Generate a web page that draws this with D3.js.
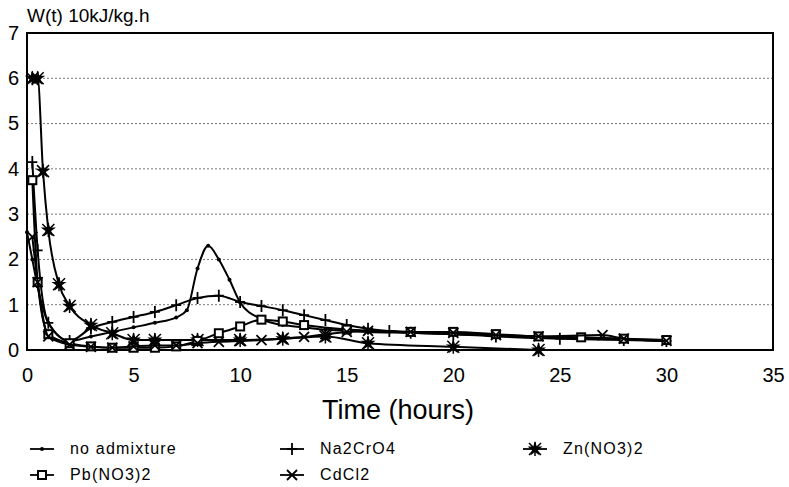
<!DOCTYPE html>
<html>
<head>
<meta charset="utf-8">
<script src="https://cdnjs.cloudflare.com/ajax/libs/d3/7.8.5/d3.min.js"></script>
<style>
  body { margin: 0; background: #fff; }
  svg text { font-family: "Liberation Sans", Arial, sans-serif; fill: #000; }
</style>
</head>
<body>
<div id="chart"></div>
<script>
const width = 789, height = 487,
    margin = ({ top: 33, right: 16, bottom: 137, left: 27 });

// hours
const tNoAdmix = [0, 0.25, 0.5, 1, 2, 3, 4, 5, 6, 7, 7.5, 8, 8.5, 9, 9.5, 10, 11, 12, 13, 14, 15, 16, 18, 20, 22, 24, 26, 28, 30];
const noAdmix  = [2.6, 2.0, 1.4, 0.6, 0.2, 0.3, 0.4, 0.5, 0.6, 0.72, 0.88, 1.8, 2.3, 2.0, 1.55, 1.05, 0.68, 0.55, 0.5, 0.45, 0.42, 0.4, 0.38, 0.35, 0.32, 0.3, 0.27, 0.24, 0.2];

const tNa = [0.25, 0.5, 1, 2, 3, 4, 5, 6, 7, 8, 9, 10, 11, 12, 13, 14, 15, 16, 17, 18, 20, 22, 25, 28, 30];
const na2cro4 = [4.15, 2.2, 0.6, 0.2, 0.48, 0.62, 0.73, 0.84, 0.99, 1.15, 1.2, 1.06, 0.97, 0.88, 0.77, 0.66, 0.55, 0.47, 0.42, 0.38, 0.35, 0.3, 0.25, 0.22, 0.2];

const tZn = [0.25, 0.5, 0.75, 1, 1.5, 2, 3, 4, 5, 6, 8, 10, 12, 14, 16, 20, 24];
const zn = [6.0, 6.0, 3.95, 2.65, 1.45, 0.97, 0.55, 0.37, 0.22, 0.22, 0.22, 0.22, 0.25, 0.3, 0.15, 0.07, 0.0];

const tPb = [0.25, 0.5, 1, 2, 3, 4, 5, 6, 7, 8, 9, 10, 11, 12, 13, 15, 18, 20, 22, 24, 26, 28, 30];
const pb = [3.75, 1.5, 0.35, 0.15, 0.08, 0.05, 0.05, 0.05, 0.08, 0.2, 0.37, 0.52, 0.67, 0.63, 0.55, 0.45, 0.4, 0.4, 0.35, 0.3, 0.28, 0.25, 0.22];

const tCd = [0.25, 0.5, 1, 2, 3, 4, 5, 6, 7, 8, 9, 10, 11, 12, 13, 14, 15, 16, 18, 20, 22, 24, 27, 28, 30];
const cdcl2 = [2.5, 1.5, 0.3, 0.12, 0.07, 0.05, 0.08, 0.1, 0.1, 0.15, 0.18, 0.2, 0.22, 0.25, 0.29, 0.35, 0.4, 0.42, 0.4, 0.38, 0.33, 0.3, 0.33, 0.25, 0.2];

const xTicks = [0, 5, 10, 15, 20, 25, 30, 35];
const yTicks = [0, 1, 2, 3, 4, 5, 6, 7];

const series = [
    { name: "no admixture", t: tNoAdmix, v: noAdmix, marker: "dot" },
    { name: "Na2CrO4", t: tNa, v: na2cro4, marker: "plus" },
    { name: "Zn(NO3)2", t: tZn, v: zn, marker: "star" },
    { name: "Pb(NO3)2", t: tPb, v: pb, marker: "square" },
    { name: "CdCl2", t: tCd, v: cdcl2, marker: "cross" }
];

const svg = d3.select("#chart").append("svg")
    .attr("width", width)
    .attr("height", height);

let x = d3.scaleLinear()
    .domain([0, 35])
    .range([margin.left, width - margin.right]);

let y = d3.scaleLinear()
    .domain([0, 7])
    .range([height - margin.bottom, margin.top]);

// dotted grid lines
svg.append("g")
    .selectAll("line")
    .data(yTicks.slice(1, -1))
    .join("line")
    .attr("x1", x(0)).attr("x2", x(35))
    .attr("y1", d => y(d)).attr("y2", d => y(d))
    .attr("stroke", "#555")
    .attr("stroke-width", 0.8)
    .attr("stroke-dasharray", "2,2");

// axes
svg.append("g")
    .attr("transform", `translate(${margin.left},0)`)
    .call(d3.axisLeft(y).tickValues(yTicks).tickFormat(d3.format("d")).tickSize(0).tickPadding(8))
    .call(g => g.select(".domain").remove())
    .call(g => g.selectAll("text").attr("font-size", 20));

svg.append("g")
    .attr("transform", `translate(0,${y(0)})`)
    .call(d3.axisBottom(x).tickValues(xTicks).tickSize(0).tickPadding(18))
    .call(g => g.select(".domain").remove())
    .call(g => g.selectAll("text").attr("font-size", 20));

// frame
svg.append("rect")
    .attr("x", x(0)).attr("y", y(7))
    .attr("width", x(35) - x(0)).attr("height", y(0) - y(7))
    .attr("fill", "none")
    .attr("stroke", "#000")
    .attr("stroke-width", 2);

svg.append("text")
    .attr("x", 27).attr("y", 22)
    .attr("font-size", 19)
    .text("W(t) 10kJ/kg.h");

svg.append("text")
    .attr("x", 398).attr("y", 419)
    .attr("text-anchor", "middle")
    .attr("font-size", 27)
    .text("Time (hours)");

function drawMarker(g, kind, px, py) {
    if (kind === "dot") {
        g.append("circle").attr("cx", px).attr("cy", py).attr("r", 2).attr("fill", "#000");
    } else if (kind === "plus") {
        g.append("path").attr("d", `M${px - 5},${py}H${px + 5}M${px},${py - 6}V${py + 6}`)
            .attr("stroke", "#000").attr("stroke-width", 1.8);
    } else if (kind === "star") {
        g.append("path").attr("d", d3.symbol(d3.symbolStar, 70)())
            .attr("transform", `translate(${px},${py})`).attr("fill", "#000");
        g.append("path").attr("d", `M${px - 6},${py - 6}L${px + 6},${py + 6}M${px - 6},${py + 6}L${px + 6},${py - 6}M${px},${py - 7}V${py + 7}`)
            .attr("stroke", "#000").attr("stroke-width", 1.5);
    } else if (kind === "square") {
        g.append("rect").attr("x", px - 4).attr("y", py - 4).attr("width", 8).attr("height", 8)
            .attr("fill", "#fff").attr("stroke", "#000").attr("stroke-width", 2);
    } else if (kind === "cross") {
        g.append("path").attr("d", `M${px - 5},${py - 5}L${px + 5},${py + 5}M${px - 5},${py + 5}L${px + 5},${py - 5}`)
            .attr("stroke", "#000").attr("stroke-width", 1.8);
    }
}

let line = d3.line()
    .x(d => x(d[0]))
    .y(d => y(d[1]))
    .curve(d3.curveMonotoneX);

for (let s of series) {
    let pts = s.t.map((t, i) => [t, s.v[i]]);
    let g = svg.append("g");
    g.append("path")
        .datum(pts)
        .attr("d", line)
        .attr("fill", "none")
        .attr("stroke", "#000")
        .attr("stroke-width", 2);
    for (let p of pts) drawMarker(g, s.marker, x(p[0]), y(p[1]));
}

// legend
const legendPos = [[30, 449], [280, 449], [523, 449], [30, 475], [280, 475]];
series.forEach((s, i) => {
    let [lx, ly] = legendPos[i];
    let g = svg.append("g");
    g.append("line").attr("x1", lx).attr("x2", lx + 24).attr("y1", ly).attr("y2", ly)
        .attr("stroke", "#000").attr("stroke-width", 1.8);
    drawMarker(g, s.marker, lx + 12, ly);
    g.append("text").attr("x", lx + 40).attr("y", ly + 5)
        .attr("font-size", 16)
        .attr("letter-spacing", 1.2)
        .text(s.name);
});
</script>
</body>
</html>
